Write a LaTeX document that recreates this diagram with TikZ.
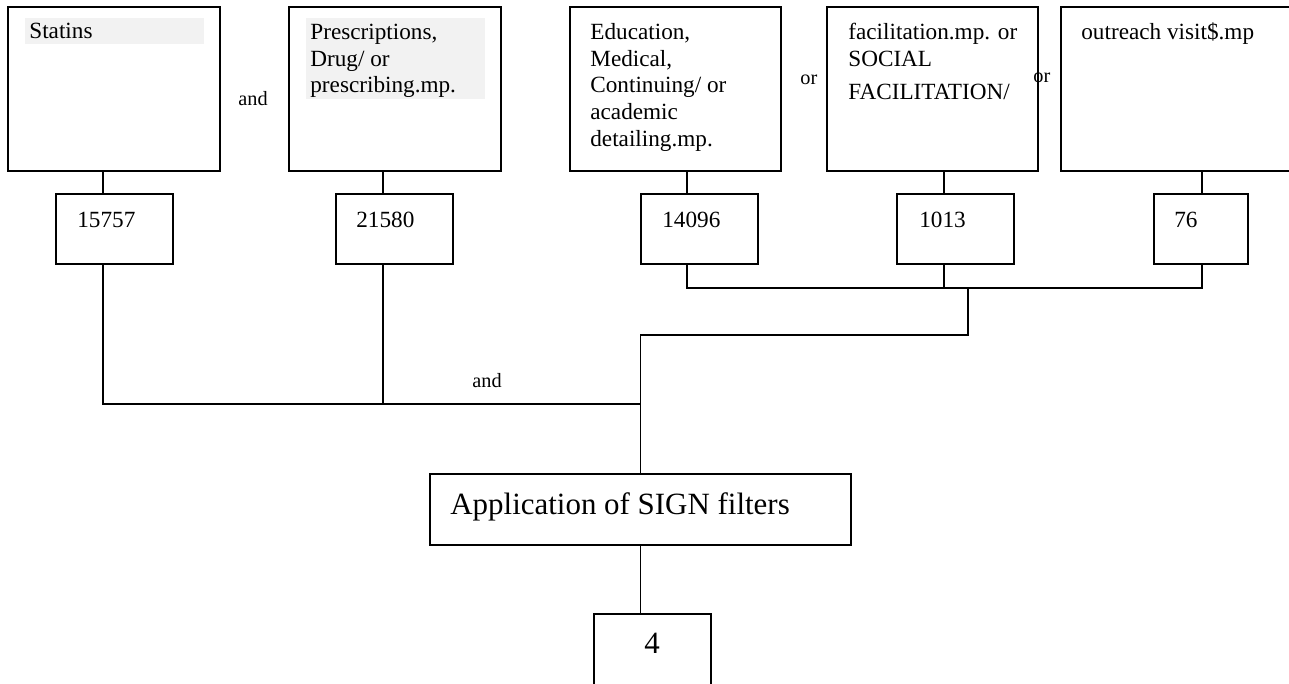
\documentclass[tikz,border=0pt]{standalone}
\usepackage{fontspec}
\setmainfont{Liberation Serif}
\usetikzlibrary{fit}
\definecolor{greyfill}{HTML}{F2F2F2}
\begin{document}
\begin{tikzpicture}[x=0.5172pt, y=-0.5172pt,
  box/.style={draw, line width=1pt, inner sep=0pt},
  conn/.style={line width=1pt},
  txt/.style={inner sep=0pt, font=\fontsize{12}{13.8}\selectfont},
  big/.style={inner sep=0pt, font=\fontsize{16}{18.4}\selectfont, anchor=base west},
  lbl/.style={inner sep=0pt, font=\fontsize{10.5}{12}\selectfont, anchor=base west}]
\useasboundingbox (0,0) rectangle (1289,684);
% grey text backgrounds
\fill[greyfill] (25,18) rectangle (204,44);
\fill[greyfill] (306,18) rectangle (485,99);
% top boxes
\node[box, fit={(8,7) (220,171)}] (b1) {};
\node[box, fit={(289,7) (501,171)}] (b2) {};
\node[box, fit={(570,7) (781,171)}] (b3) {};
\node[box, fit={(827,7) (1038,171)}] (b4) {};
\node[box, fit={(1061,7) (1295,171)}] (b5) {};
% count boxes
\node[box, fit={(56,194) (173,264)}] (n1) {};
\node[box, fit={(336,194) (453,264)}] (n2) {};
\node[box, fit={(641,194) (758,264)}] (n3) {};
\node[box, fit={(897,194) (1014,264)}] (n4) {};
\node[box, fit={(1154,194) (1248,264)}] (n5) {};
\node[box, fit={(430,474) (851,545)}] (app) {};
\node[box, fit={(594,614) (711,700)}] (fin) {};
% texts
\node[txt, anchor=base west] (t1) at (29,39) {Statins};
\node[txt, anchor=north west, align=left] (t2) at (310,20.3) {\strut Prescriptions,\\Drug/ or\\prescribing.mp.};
\node[txt, anchor=north west, align=left] (t3) at (590,20.3) {\strut Education,\\Medical,\\Continuing/ or\\academic\\detailing.mp.};
\node[txt, anchor=north west, align=left] (t4) at (848,20.3) {\strut facilitation.mp. or\\SOCIAL\\[3.6pt]FACILITATION/};
\node[txt, anchor=base west] (t5) at (1081,40) {outreach visit\$.mp};
\node[txt, anchor=base west] (c1) at (77,228) {15757};
\node[txt, anchor=base west] (c2) at (356,228) {21580};
\node[txt, anchor=base west] (c3) at (662,228) {14096};
\node[txt, anchor=base west] (c4) at (919,228) {1013};
\node[txt, anchor=base west] (c5) at (1174,228) {76};
\node[big] (appt) at (450,514) {Application of SIGN filters};
\node[big] (fint) at (644,653) {4};
% operator labels
\node[lbl] (and1) at (238,106) {and};
\node[lbl] (or1) at (800,85) {or};
\node[lbl] (or2) at (1033,83) {or};
\node[lbl] (and2) at (472,387) {and};
% connector positions
\coordinate (j1) at (103,0);
\coordinate (j2) at (383,0);
\coordinate (j3) at (687,0);
\coordinate (j4) at (944,0);
\coordinate (j5) at (1202,0);
\coordinate (jand) at (640.5,404);
\coordinate (jor) at (968,288);
% connectors
\draw[conn] (b1.south -| j1) -- (n1.north -| j1);
\draw[conn] (b2.south -| j2) -- (n2.north -| j2);
\draw[conn] (b3.south -| j3) -- (n3.north -| j3);
\draw[conn] (b4.south -| j4) -- (n4.north -| j4);
\draw[conn] (b5.south -| j5) -- (n5.north -| j5);
\draw[conn] (n3.south -| j3) |- (jor) -| (n5.south -| j5);
\draw[conn] (n4.south -| j4) -- (j4 |- jor);
\draw[conn] (jor) -- ++(0,47) -| (app.north);
\draw[conn] (n1.south -| j1) |- (jand);
\draw[conn] (n2.south -| j2) -- (j2 |- jand);
\draw[conn] (app.south) -- (app.south |- fin.north);
\end{tikzpicture}
\end{document}
